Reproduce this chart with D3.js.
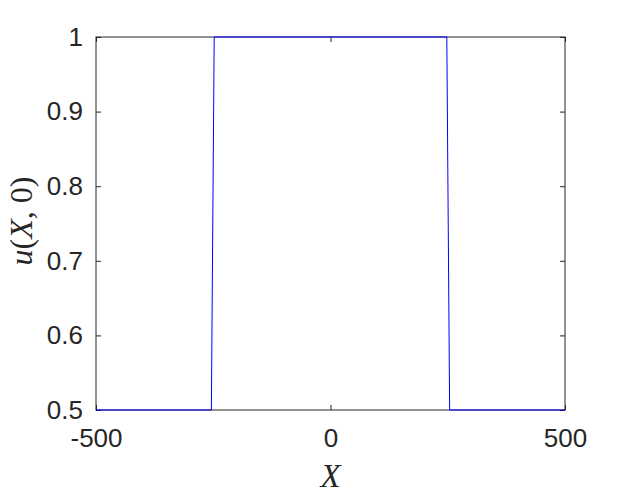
<!DOCTYPE html>
<html>
<head>
<meta charset="utf-8">
<script src="https://cdn.jsdelivr.net/npm/d3@7"></script>
<style>
  body { margin: 0; background: #fff; }
  svg { display: block; }
</style>
</head>
<body>
<div id="chart"></div>
<script>
// step profile u(X,0)
const xValues = [-500, -254, -248, 248, 254, 500];
const uValues = [0.5, 0.5, 1, 1, 0.5, 0.5];
const xTicks = [-500, 0, 500];
const yTicks = [0.5, 0.6, 0.7, 0.8, 0.9, 1];

const W = 625, H = 500;
const margin = { top: 37, right: 60, bottom: 90, left: 96 };
const width = W - margin.left - margin.right;   // 469
const height = H - margin.top - margin.bottom;  // 373
const axisColor = "#262626";

const svg = d3.select("#chart").append("svg")
    .attr("width", W)
    .attr("height", H);

const g = svg.append("g")
    .attr("transform", `translate(${margin.left}, ${margin.top})`);

const xScale = d3.scaleLinear().domain([-500, 500]).range([0, width]);
const yScale = d3.scaleLinear().domain([0.5, 1]).range([height, 0]);

// box
g.append("rect")
    .attr("width", width)
    .attr("height", height)
    .attr("fill", "none")
    .attr("stroke", axisColor)
    .attr("stroke-width", 1);

// axes with inward ticks
function styleAxis(sel) {
    sel.select(".domain").remove();
    sel.selectAll(".tick line").attr("stroke", axisColor);
    sel.selectAll(".tick text")
        .attr("fill", axisColor)
        .style("font-family", "Liberation Sans, Arial, sans-serif")
        .style("font-size", "26px");
}

const xAxis = g.append("g")
    .attr("transform", `translate(0, ${height})`)
    .call(d3.axisBottom(xScale).tickValues(xTicks).tickSize(-5).tickPadding(19).tickFormat(d => String(d)));
styleAxis(xAxis);
xAxis.selectAll(".tick text").attr("dy", "0.71em");

g.append("g")
    .call(d3.axisTop(xScale).tickValues(xTicks).tickSize(-5).tickFormat(""))
    .call(styleAxis);

const yAxis = g.append("g")
    .call(d3.axisLeft(yScale).tickValues(yTicks).tickSize(-5).tickPadding(13).tickFormat(d => String(d)));
styleAxis(yAxis);

g.append("g")
    .attr("transform", `translate(${width}, 0)`)
    .call(d3.axisRight(yScale).tickValues(yTicks).tickSize(-5).tickFormat(""))
    .call(styleAxis);

// the profile line
const line = d3.line()
    .x((d, i) => xScale(xValues[i]))
    .y(d => yScale(d));

g.append("path")
    .datum(uValues)
    .attr("d", line)
    .attr("fill", "none")
    .attr("stroke", "#0000ff")
    .attr("stroke-width", 1);

// axis labels
const labelFont = "Liberation Serif, Times New Roman, serif";

svg.append("text")
    .attr("x", margin.left + width / 2)
    .attr("y", 487)
    .attr("text-anchor", "middle")
    .attr("fill", axisColor)
    .style("font-family", labelFont)
    .style("font-size", "33px")
    .style("font-style", "italic")
    .text("X");

const yLabel = svg.append("text")
    .attr("transform", "translate(32, 221) rotate(-90)")
    .attr("text-anchor", "middle")
    .attr("fill", axisColor)
    .style("font-family", labelFont)
    .style("font-size", "32px");
yLabel.append("tspan").style("font-style", "italic").text("u");
yLabel.append("tspan").text("(");
yLabel.append("tspan").style("font-style", "italic").text("X");
yLabel.append("tspan").text(", 0)");
</script>
</body>
</html>
